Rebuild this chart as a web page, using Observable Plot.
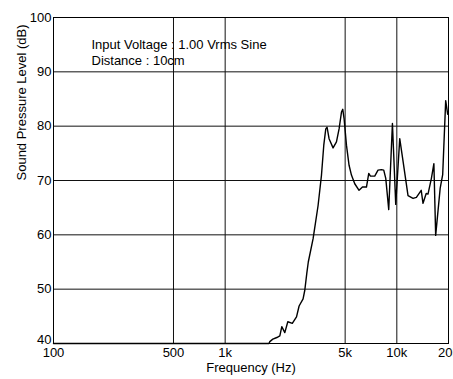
<!DOCTYPE html>
<html>
<head>
<meta charset="utf-8">
<script src="https://cdn.jsdelivr.net/npm/d3@7"></script>
<script src="https://cdn.jsdelivr.net/npm/@observablehq/plot@0.6"></script>
<style>
  html, body { margin: 0; padding: 0; background: white; }
</style>
</head>
<body>
<div id="chart"></div>
<script>
const freq = [100, 1800, 1820, 1895, 2000, 2082, 2138, 2226, 2317, 2461, 2604, 2696,
  2844, 2910, 2989, 3050, 3253, 3478, 3640, 3754, 3856, 3924,
  4030, 4252, 4450, 4609, 4760, 4843, 4929, 5089, 5270, 5441,
  5687, 6026, 6307, 6654, 6862, 7020, 7435, 7770, 8135, 8390,
  8620, 8972, 9428, 9854, 10400, 10900, 11620, 12430, 13000, 13870,
  14210, 14830, 15190, 15900, 16440, 16840, 17890, 18500, 19260, 19780];
const spl = [40, 40, 40.35, 40.8, 41.1, 41.4, 43.1, 42.0, 44.0, 43.7, 44.9, 46.9,
  48.2, 49.8, 52.9, 55.0, 59.3, 65.4, 71.0, 76.5, 79.5, 79.8,
  77.7, 76.0, 77.1, 79.5, 82.6, 83.1, 81.4, 76.5, 72.8, 71.0,
  69.4, 68.2, 68.8, 68.8, 71.3, 70.8, 70.8, 71.9, 72.0, 71.9,
  70.4, 64.65, 80.5, 65.6, 77.7, 73.3, 67.2, 66.7, 66.9, 68.2,
  65.8, 67.6, 67.5, 70.4, 73.1, 59.9, 68.6, 71.1, 84.7, 82.2];

const xTicks = [100, 500, 1000, 5000, 10000, 20000];
const xTickLabels = ["100", "500", "1k", "5k", "10k", "20k"];
const xGrid = [500, 1000, 5000, 10000];
const yTicks = [50, 60, 70, 80, 90, 100];
const yBottomTick = [40];
const yGrid = [50, 60, 70, 80, 90];
const annotation = ["Input Voltage : 1.00 Vrms Sine\nDistance : 10cm"];
const xLabel = ["Frequency (Hz)"];
const yLabel = ["Sound Pressure Level (dB)"];

const data = freq.map((f, i) => ({f, db: spl[i]}));

const chart = Plot.plot({
  width: 453,
  height: 379,
  marginLeft: 53,
  marginRight: 5,
  marginTop: 17,
  marginBottom: 36,
  style: {fontFamily: "'Liberation Sans', Arial, sans-serif", fontSize: "13px", color: "black", background: "white"},
  x: {type: "log", domain: [100, 20000], ticks: xTicks,
      tickFormat: d => xTickLabels[xTicks.indexOf(d)], tickSize: 0, tickPadding: 4, label: null},
  y: {domain: [40, 100], ticks: yTicks, tickSize: 0, tickPadding: 2, label: null},
  marks: [
    Plot.ruleX(xGrid, {stroke: "#111", strokeWidth: 1}),
    Plot.ruleY(yGrid, {stroke: "#111", strokeWidth: 1}),
    Plot.frame({stroke: "black", strokeWidth: 1}),
    Plot.line(data, {x: "f", y: "db", stroke: "black", strokeWidth: 1.4, curve: "linear"}),
    Plot.text(yBottomTick, {y: d => d, text: d => String(d), frameAnchor: "left", dx: -2, dy: -4,
      textAnchor: "end", lineAnchor: "middle", fill: "black"}),
    Plot.text(annotation, {text: d => d, frameAnchor: "top-left", dx: 38, dy: 20,
      lineAnchor: "top", textAnchor: "start", lineHeight: 1.23, fill: "black"}),
    Plot.text(xLabel, {text: d => d, frameAnchor: "bottom", dy: 24, lineAnchor: "middle", fill: "black"}),
    Plot.text(yLabel, {text: d => d, frameAnchor: "left", dx: -32, rotate: -90, lineAnchor: "middle", fill: "black"})
  ]
});
document.getElementById("chart").appendChild(chart);
</script>
</body>
</html>
